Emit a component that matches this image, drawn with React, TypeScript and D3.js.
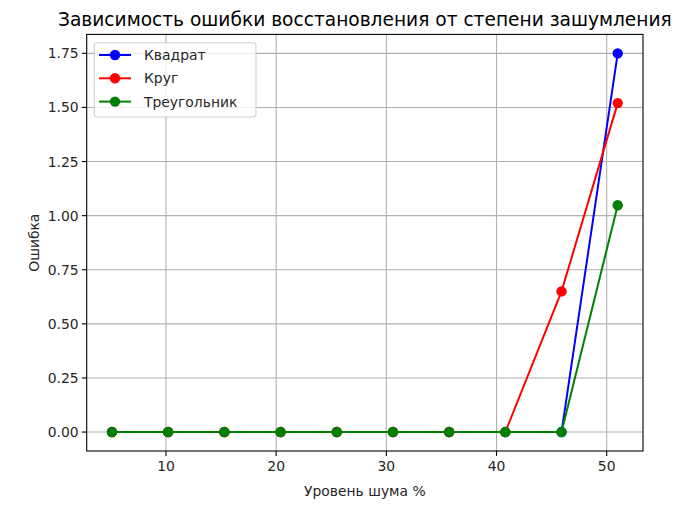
import React from "react";
import * as d3 from "d3";

const noiseLevels = [5.1, 10.2, 15.3, 20.4, 25.5, 30.6, 35.7, 40.8, 45.9, 51.0];
const squareErr = [0, 0, 0, 0, 0, 0, 0, 0, 0, 1.75];
const circleErr = [0, 0, 0, 0, 0, 0, 0, 0, 0.65, 1.52];
const triangleErr = [0, 0, 0, 0, 0, 0, 0, 0, 0, 1.048];
const seriesNames = ["Квадрат", "Круг", "Треугольник"];
const seriesColors = ["#0000ff", "#ff0000", "#008000"];
const xTicks = [10, 20, 30, 40, 50];
const yTicks = [0, 0.25, 0.5, 0.75, 1.0, 1.25, 1.5, 1.75];

const W = 686, H = 510;
const L = 86.7, R = 643, T = 34.4, B = 451;
const font = "DejaVu Sans, sans-serif";

export default function App() {
  const x = d3.scaleLinear().domain([2.805, 53.295]).range([L, R]);
  const y = d3.scaleLinear().domain([-0.0875, 1.8375]).range([B, T]);
  const all = [squareErr, circleErr, triangleErr];
  const line = d3.line<number>().x((_, i) => x(noiseLevels[i])).y((d) => y(d));
  const fs = 13.9;
  const mr = 5.2;
  return (
    <svg width={W} height={H} style={{ position: "absolute", left: 0, top: 0, background: "#fff" }} fontFamily={font}>
      <rect x={0} y={0} width={W} height={H} fill="#fff" />
      {xTicks.map((t) => (
        <line key={"gx" + t} x1={x(t)} x2={x(t)} y1={T} y2={B} stroke="#b0b0b0" strokeWidth={1.1} />
      ))}
      {yTicks.map((t) => (
        <line key={"gy" + t} x1={L} x2={R} y1={y(t)} y2={y(t)} stroke="#b0b0b0" strokeWidth={1.1} />
      ))}
      {all.map((s, k) => (
        <g key={k}>
          <path d={line(s) || ""} fill="none" stroke={seriesColors[k]} strokeWidth={2} />
          {s.map((v, i) => (
            <circle key={i} cx={x(noiseLevels[i])} cy={y(v)} r={mr} fill={seriesColors[k]} />
          ))}
        </g>
      ))}
      <rect x={L} y={T} width={R - L} height={B - T} fill="none" stroke="#000" strokeWidth={1.1} />
      {xTicks.map((t) => (
        <g key={"tx" + t}>
          <line x1={x(t)} x2={x(t)} y1={B} y2={B + 4.9} stroke="#000" strokeWidth={1.1} />
          <text x={x(t)} y={B + 20} fontSize={fs} textAnchor="middle" fill="#262626">{t}</text>
        </g>
      ))}
      {yTicks.map((t) => (
        <g key={"ty" + t}>
          <line x1={L - 4.9} x2={L} y1={y(t)} y2={y(t)} stroke="#000" strokeWidth={1.1} />
          <text x={L - 8} y={y(t) + 5} fontSize={fs} textAnchor="end" fill="#262626">{t.toFixed(2)}</text>
        </g>
      ))}
      <text x={(L + R) / 2} y={496} fontSize={fs} textAnchor="middle" fill="#262626">Уровень шума %</text>
      <text transform={`translate(39,${(T + B) / 2}) rotate(-90)`} fontSize={fs} textAnchor="middle" fill="#262626">Ошибка</text>
      <text x={(L + R) / 2} y={26} fontSize={18.6} textAnchor="middle" fill="#000">Зависимость ошибки восстановления от степени зашумления</text>
      <rect x={94.3} y={42.7} width={161.7} height={74.3} rx={3} fill="#fff" fillOpacity={0.8} stroke="#d0d0d0" strokeWidth={1.1} />
      {seriesNames.map((n, k) => {
        const yy = 55 + k * 23.3;
        return (
          <g key={n}>
            <line x1={99} x2={131} y1={yy} y2={yy} stroke={seriesColors[k]} strokeWidth={2} />
            <circle cx={115} cy={yy} r={mr} fill={seriesColors[k]} />
            <text x={144} y={yy + 5} fontSize={fs} fill="#262626">{n}</text>
          </g>
        );
      })}
    </svg>
  );
}
